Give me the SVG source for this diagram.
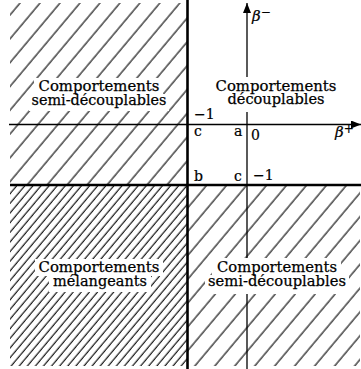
<svg xmlns="http://www.w3.org/2000/svg" width="361" height="369" viewBox="0 0 361 369">
<defs>
<pattern id="sparse" patternUnits="userSpaceOnUse" width="15.3" height="40" patternTransform="rotate(40)">
<line x1="2" y1="-5" x2="2" y2="45" stroke="#000" stroke-width="1.1"/>
</pattern>
<pattern id="dense" patternUnits="userSpaceOnUse" width="6.2" height="40" patternTransform="rotate(40)">
<line x1="2" y1="-5" x2="2" y2="45" stroke="#000" stroke-width="1.1"/>
</pattern>
<marker id="arr" markerUnits="userSpaceOnUse" markerWidth="10" markerHeight="8" refX="10" refY="4" orient="auto">
<path d="M0,0 L10,4 L0,8 Z" fill="#000"/>
</marker>
<style>
.big{font-family:"DejaVu Serif","Liberation Serif",serif;font-size:15.5px;fill:#000;stroke:#000;stroke-width:0.25}
.lab{font-family:"DejaVu Serif","Liberation Serif",serif;font-size:14px;fill:#000;stroke:#000;stroke-width:0.2}
.gr{font-family:"DejaVu Serif","Liberation Serif",serif;font-size:15px;font-style:italic;fill:#000;stroke:#000;stroke-width:0.2}
.ko{fill:#fff}
.thick{stroke:#000;stroke-width:2.6;fill:none}
.axis{stroke:#000;stroke-width:1.3;fill:none}
</style>
</defs>
<rect width="361" height="369" fill="#fff"/>
<g id="regions">
<rect id="upper-left" x="10" y="3" width="177" height="181" fill="url(#sparse)"/>
<rect id="lower-left" x="10" y="186" width="177" height="180" fill="url(#dense)"/>
<rect id="lower-right" x="188" y="186" width="172" height="180" fill="url(#sparse)"/>
</g>
<g id="connectors">
<line class="axis" x1="9" y1="124.5" x2="361" y2="124.5" marker-end="url(#arr)"/>
<line class="axis" x1="247" y1="369" x2="247" y2="3" marker-end="url(#arr)"/>
<line class="thick" x1="187.5" y1="0" x2="187.5" y2="369"/>
<line class="thick" x1="10" y1="185" x2="361" y2="185"/>
</g>
<g id="knockouts">
<rect class="ko" x="34" y="78" width="129" height="17"/>
<rect class="ko" x="29" y="94" width="140" height="17"/>
<rect class="ko" x="212" y="77" width="128" height="35"/>
<rect class="ko" x="35" y="259" width="128" height="17"/>
<rect class="ko" x="49" y="275" width="102" height="17"/>
<rect class="ko" x="212" y="258" width="129" height="18"/>
<rect class="ko" x="205" y="275" width="144" height="19"/>
</g>
<g id="node-semi-decouplables-top">
<text class="big" text-anchor="middle"><tspan x="99" y="91" textLength="121" lengthAdjust="spacingAndGlyphs">Comportements</tspan><tspan x="99" y="105" textLength="135" lengthAdjust="spacingAndGlyphs">semi-découplables</tspan></text>
</g>
<g id="node-decouplables">
<text class="big" text-anchor="middle"><tspan x="276" y="91" textLength="121" lengthAdjust="spacingAndGlyphs">Comportements</tspan><tspan x="276" y="104" textLength="97" lengthAdjust="spacingAndGlyphs">découplables</tspan></text>
</g>
<g id="node-melangeants">
<text class="big" text-anchor="middle"><tspan x="99" y="272" textLength="121" lengthAdjust="spacingAndGlyphs">Comportements</tspan><tspan x="100" y="286" textLength="94" lengthAdjust="spacingAndGlyphs">mélangeants</tspan></text>
</g>
<g id="node-semi-decouplables-bottom">
<text class="big" text-anchor="middle"><tspan x="277" y="272" textLength="120" lengthAdjust="spacingAndGlyphs">Comportements</tspan><tspan x="277" y="286" textLength="138" lengthAdjust="spacingAndGlyphs">semi-découplables</tspan></text>
</g>
<g id="labels">
<text class="lab" x="194" y="119">−1</text>
<text class="lab" x="194" y="136">c</text>
<text class="lab" x="234" y="136">a</text>
<text class="lab" x="251" y="140">0</text>
<text class="lab" x="194" y="181">b</text>
<text class="lab" x="234" y="181">c</text>
<text class="lab" x="253" y="180">−1</text>
<text class="gr" x="335" y="137">β<tspan font-size="12" font-style="normal" dy="-4">+</tspan></text>
<text class="gr" x="252" y="21">β<tspan font-size="12" font-style="normal" dy="-5">−</tspan></text>
</g>
</svg>
